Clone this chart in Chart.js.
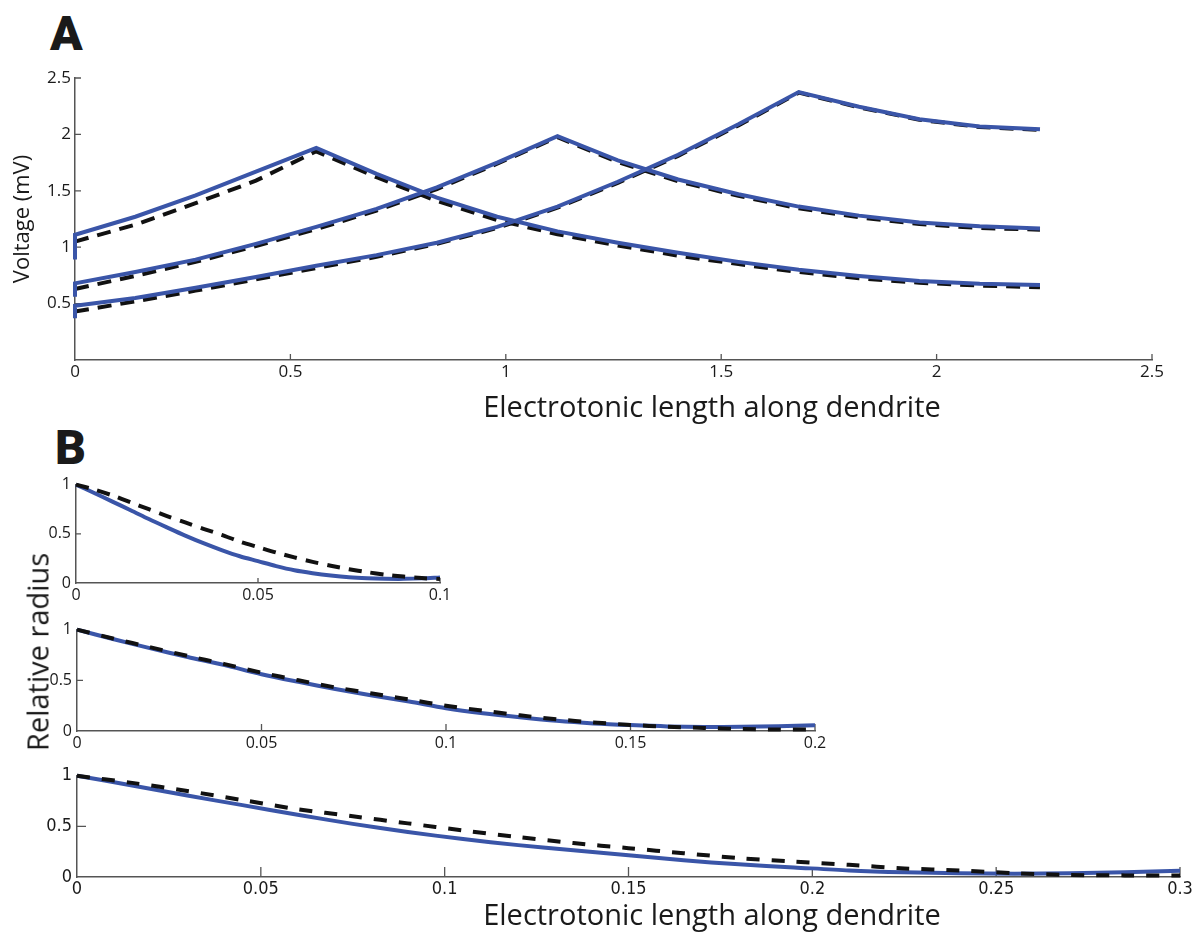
<!DOCTYPE html>
<html lang="en">
<head>
<meta charset="UTF-8" />
<title>Voltage and relative radius along dendrite</title>
<script src="https://cdn.jsdelivr.net/npm/chart.js"></script>
<style>
  body { margin: 0; background: #fff; width: 1200px; height: 940px; position: relative; overflow: hidden; font-family: 'Open Sans', sans-serif; color: #1a1a1a; }
  canvas { position: absolute; left: 0; }
  .panel { position: absolute; font-family: Roboto, 'DejaVu Sans', sans-serif; font-weight: 900; font-size: 48px; line-height: 1; }
  .ylab { position: absolute; left: 37px; top: 652px; transform: translate(-50%, -50%) rotate(-90deg); font-size: 29px; white-space: nowrap; }
  .xlab { position: absolute; left: 712px; transform: translate(-50%, -50%); font-size: 29px; white-space: nowrap; }
</style>
</head>
<body>

<div class="panel" style="left:50px; top:10px;">A</div>
<div class="panel" style="left:55px; top:424px;">B</div>

<canvas id="chartA" width="1200" height="364" style="top:60px;"></canvas>
<canvas id="chartB1" width="460" height="140" style="top:470px;"></canvas>
<canvas id="chartB2" width="850" height="140" style="top:615px;"></canvas>
<canvas id="chartB3" width="1200" height="140" style="top:760px;"></canvas>

<div class="xlab" style="top:405px;">Electrotonic length along dendrite</div>
<div class="ylab">Relative radius</div>
<div class="xlab" style="top:913px;">Electrotonic length along dendrite</div>

<script>
// ---- Panel A: voltage along the dendrite, inputs at three sites ----
const lenA = [0, 0.14, 0.28, 0.42, 0.56, 0.70, 0.84, 0.98, 1.12, 1.26, 1.40, 1.54, 1.68, 1.82, 1.96, 2.10, 2.24];
const voltA1 = [1.11, 1.27, 1.46, 1.67, 1.88, 1.65, 1.44, 1.27, 1.14, 1.04, 0.95, 0.87, 0.80, 0.745, 0.70, 0.675, 0.665];
const voltA2 = [0.68, 0.78, 0.89, 1.03, 1.18, 1.34, 1.53, 1.75, 1.985, 1.77, 1.60, 1.47, 1.36, 1.28, 1.22, 1.185, 1.165];
const voltA3 = [0.48, 0.55, 0.64, 0.735, 0.835, 0.93, 1.04, 1.18, 1.36, 1.58, 1.82, 2.09, 2.375, 2.245, 2.135, 2.07, 2.045];
const voltA1Dash = [1.05, 1.20, 1.39, 1.59, 1.85, 1.62, 1.41, 1.24, 1.115, 1.015, 0.925, 0.85, 0.78, 0.725, 0.685, 0.66, 0.645];
const voltA2Dash = [0.63, 0.745, 0.87, 1.01, 1.16, 1.325, 1.515, 1.74, 1.975, 1.755, 1.585, 1.455, 1.345, 1.265, 1.205, 1.17, 1.155];
const voltA3Dash = [0.43, 0.52, 0.615, 0.715, 0.815, 0.915, 1.03, 1.17, 1.35, 1.57, 1.81, 2.08, 2.37, 2.24, 2.13, 2.065, 2.04];
// the blue traces start with a short drop at x = 0
const voltAStart = [0.89, 0.56, 0.37];
const ticksAx = [0, 0.5, 1, 1.5, 2, 2.5];
const ticksAy = [0, 0.5, 1, 1.5, 2, 2.5];

// ---- Panel B: relative radius profiles ----
const lenB1 = [0, 0.005, 0.01, 0.015, 0.02, 0.025, 0.03, 0.035, 0.04, 0.045, 0.05, 0.055, 0.06, 0.065, 0.07, 0.075, 0.08, 0.085, 0.09, 0.095, 0.1];
const radB1 = [1.0, 0.915, 0.827, 0.74, 0.65, 0.565, 0.482, 0.405, 0.335, 0.272, 0.222, 0.172, 0.13, 0.1, 0.076, 0.058, 0.048, 0.043, 0.042, 0.047, 0.057];
const radB1Dash = [1.0, 0.95, 0.89, 0.82, 0.75, 0.68, 0.615, 0.55, 0.49, 0.42, 0.365, 0.31, 0.26, 0.215, 0.175, 0.14, 0.11, 0.085, 0.065, 0.05, 0.04];

const lenB2 = [0, 0.01, 0.02, 0.03, 0.04, 0.05, 0.06, 0.07, 0.08, 0.09, 0.1, 0.11, 0.12, 0.13, 0.14, 0.15, 0.16, 0.17, 0.18, 0.19, 0.2];
const radB2 = [1.0, 0.905, 0.815, 0.73, 0.65, 0.56, 0.485, 0.415, 0.35, 0.29, 0.225, 0.175, 0.135, 0.10, 0.075, 0.058, 0.045, 0.04, 0.042, 0.048, 0.057];
const radB2Dash = [1.0, 0.91, 0.825, 0.74, 0.66, 0.575, 0.50, 0.43, 0.37, 0.31, 0.25, 0.20, 0.155, 0.115, 0.085, 0.06, 0.042, 0.03, 0.02, 0.015, 0.015];

const lenB3 = [0, 0.015, 0.03, 0.045, 0.06, 0.075, 0.09, 0.105, 0.12, 0.135, 0.15, 0.165, 0.18, 0.195, 0.21, 0.225, 0.24, 0.255, 0.27, 0.285, 0.3];
const radB3 = [1.0, 0.905, 0.805, 0.71, 0.615, 0.525, 0.445, 0.375, 0.315, 0.265, 0.215, 0.165, 0.125, 0.095, 0.065, 0.047, 0.037, 0.033, 0.038, 0.047, 0.062];
const radB3Dash = [1.0, 0.93, 0.85, 0.76, 0.67, 0.60, 0.53, 0.46, 0.395, 0.335, 0.285, 0.235, 0.187, 0.152, 0.12, 0.085, 0.065, 0.038, 0.02, 0.016, 0.016];

const ticksB1x = [0, 0.05, 0.1];
const ticksB2x = [0, 0.05, 0.1, 0.15, 0.2];
const ticksB3x = [0, 0.05, 0.1, 0.15, 0.2, 0.25, 0.3];
const ticksBy = [0, 0.5, 1];

const BLUE = '#3a55a8';
const AXIS = '#555';
const TXT = '#1a1a1a';

Chart.defaults.font.family = "'Open Sans', sans-serif";
Chart.defaults.color = TXT;

function pts(xs, ys) { return xs.map((x, i) => ({ x: x, y: ys[i] })); }
function fmt(v) { return String(Math.round(v * 1000) / 1000); }

function solid(data, tension) {
  return { data: data, borderColor: BLUE, borderWidth: 4, pointRadius: 0, fill: false, tension: tension, clip: false };
}
function dashed(data, dash, tension) {
  return { data: data, borderColor: '#111', borderWidth: 4, borderDash: dash, pointRadius: 0, fill: false, tension: tension, clip: false };
}

// small tick marks pointing into the plot, like the original figure
const inwardTicks = {
  id: 'inwardTicks',
  beforeDatasetsDraw(chart, args, opts) {
    const { ctx, chartArea } = chart;
    const sx = chart.scales.x, sy = chart.scales.y;
    ctx.save();
    ctx.strokeStyle = AXIS;
    ctx.lineWidth = 1.3;
    ctx.beginPath();
    sx.ticks.forEach((t, i) => {
      if (t.value === sx.min) return;
      const px = sx.getPixelForTick(i);
      ctx.moveTo(px, chartArea.bottom);
      ctx.lineTo(px, chartArea.bottom - opts.lenX);
    });
    sy.ticks.forEach((t, i) => {
      if (t.value === sy.min) return;
      const py = sy.getPixelForTick(i);
      ctx.moveTo(chartArea.left, py);
      ctx.lineTo(chartArea.left + opts.lenY, py);
    });
    ctx.stroke();
    ctx.restore();
  }
};

function axes(o) {
  return {
    x: {
      type: 'linear', min: o.xMin, max: o.xMax,
      afterBuildTicks: s => { s.ticks = o.xTicks.map(v => ({ value: v })); },
      afterFit: s => { s.height = o.xH; },
      grid: { display: false, drawTicks: false },
      border: { display: true, color: AXIS, width: 1.5 },
      ticks: { padding: o.xPad, font: o.tickFont, color: TXT, callback: o.xFmt || fmt, maxRotation: 0, autoSkip: false }
    },
    y: {
      type: 'linear', min: 0, max: o.yMax,
      afterBuildTicks: s => { s.ticks = o.yTicks.map(v => ({ value: v })); },
      afterFit: s => { s.width = o.yW; },
      grid: { display: false, drawTicks: false },
      border: { display: true, color: AXIS, width: 1.5 },
      ticks: { padding: o.yPad, font: o.tickFont, color: TXT, callback: o.yFmt || fmt, autoSkip: false },
      title: o.yTitle || { display: false }
    }
  };
}

function baseOptions(o, padding, lens) {
  return {
    responsive: false,
    animation: false,
    events: [],
    layout: { padding: padding },
    plugins: { legend: { display: false }, tooltip: { enabled: false }, inwardTicks: lens },
    scales: axes(o)
  };
}

// ---- Panel A ----
new Chart(document.getElementById('chartA'), {
  type: 'line',
  data: {
    datasets: [
      solid([{ x: 0, y: voltAStart[0] }].concat(pts(lenA, voltA1)), 0),
      solid([{ x: 0, y: voltAStart[1] }].concat(pts(lenA, voltA2)), 0),
      solid([{ x: 0, y: voltAStart[2] }].concat(pts(lenA, voltA3)), 0),
      dashed(pts(lenA, voltA1Dash), [14, 9], 0),
      dashed(pts(lenA, voltA2Dash), [14, 9], 0),
      dashed(pts(lenA, voltA3Dash), [14, 9], 0)
    ]
  },
  options: baseOptions({
    xMin: 0, xMax: 2.5, xTicks: ticksAx, yMax: 2.5, yTicks: ticksAy,
    xH: 64, yW: 75, xPad: 2, yPad: 4,
    tickFont: { size: 17 },
    // the two zeros share one label at the corner
    yFmt: v => (v === 0 ? '' : fmt(v)),
    yTitle: { display: true, text: 'Voltage (mV)', font: { size: 22 }, color: TXT, padding: { top: 9.5, bottom: 0 } }
  }, { top: 18, right: 48, left: 0, bottom: 0 }, { lenX: 6, lenY: 6 }),
  plugins: [inwardTicks]
});

// ---- Panel B (three stacked plots) ----
const bFont = { size: 16 };
const bFontNarrow = { size: 18, family: "'Liberation Sans Narrow', 'DejaVu Sans Condensed', sans-serif" };

new Chart(document.getElementById('chartB1'), {
  type: 'line',
  data: { datasets: [dashed(pts(lenB1, radB1Dash), [13, 9], 0.3), solid(pts(lenB1, radB1), 0.3)] },
  options: baseOptions({
    xMin: 0, xMax: 0.1, xTicks: ticksB1x, yMax: 1, yTicks: ticksBy,
    xH: 27, yW: 76, xPad: 3, yPad: 5, tickFont: bFont
  }, { top: 10, right: 20, left: 0, bottom: 0 }, { lenX: 5, lenY: 5 }),
  plugins: [inwardTicks]
});

new Chart(document.getElementById('chartB2'), {
  type: 'line',
  data: { datasets: [dashed(pts(lenB2, radB2Dash), [13, 12], 0.3), solid(pts(lenB2, radB2), 0.3)] },
  options: baseOptions({
    xMin: 0, xMax: 0.2, xTicks: ticksB2x, yMax: 1, yTicks: ticksBy,
    xH: 24, yW: 77, xPad: 3, yPad: 5, tickFont: bFont
  }, { top: 11, right: 35, left: 0, bottom: 0 }, { lenX: 7, lenY: 6 }),
  plugins: [inwardTicks]
});

new Chart(document.getElementById('chartB3'), {
  type: 'line',
  data: { datasets: [dashed(pts(lenB3, radB3Dash), [13, 12], 0.3), solid(pts(lenB3, radB3), 0.3)] },
  options: baseOptions({
    xMin: 0, xMax: 0.3, xTicks: ticksB3x, yMax: 1, yTicks: ticksBy,
    xH: 23, yW: 77, xPad: 2, yPad: 5, tickFont: bFontNarrow
  }, { top: 13, right: 20, left: 0, bottom: 0 }, { lenX: 10, lenY: 9 }),
  plugins: [inwardTicks]
});
</script>
</body>
</html>
